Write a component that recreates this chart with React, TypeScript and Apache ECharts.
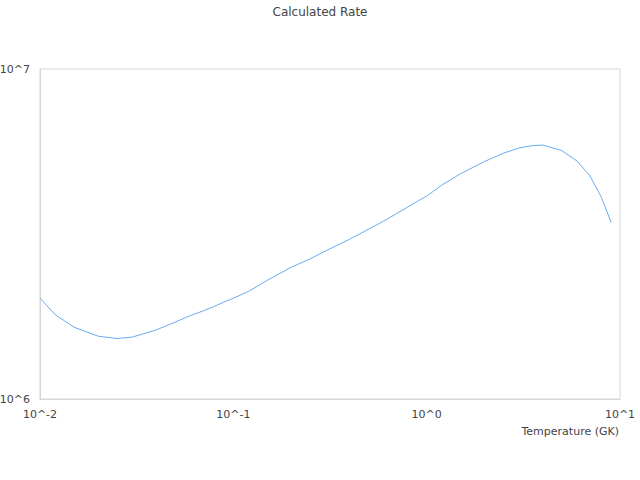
import React, { useEffect, useRef } from "react";
import * as echarts from "echarts";

const temperatures = [
  0.01, 0.012, 0.015, 0.02, 0.025, 0.03, 0.04, 0.05, 0.06, 0.07, 0.08, 0.09,
  0.1, 0.12, 0.15, 0.2, 0.25, 0.3, 0.4, 0.5, 0.6, 0.7, 0.8, 0.9,
  1, 1.2, 1.5, 2, 2.5, 3, 3.5, 4, 5, 6, 7, 8, 9,
];
const rates = [
  2.02e6, 1.8e6, 1.65e6, 1.55e6, 1.525e6, 1.54e6, 1.62e6, 1.71e6, 1.79e6, 1.85e6, 1.91e6, 1.97e6,
  2.02e6, 2.12e6, 2.29e6, 2.51e6, 2.66e6, 2.81e6, 3.05e6, 3.27e6, 3.46e6, 3.65e6, 3.82e6, 3.98e6,
  4.12e6, 4.45e6, 4.82e6, 5.25e6, 5.56e6, 5.76e6, 5.86e6, 5.88e6, 5.66e6, 5.26e6, 4.74e6, 4.09e6, 3.43e6,
];
const titleText = "Calculated Rate";
const xAxisName = "Temperature (GK)";

const powLabel = (v: number) => "10^" + Math.round(Math.log10(v));

export default function App() {
  const ref = useRef<HTMLDivElement>(null);
  useEffect(() => {
    if (!ref.current) return;
    const chart = echarts.init(ref.current, undefined, { renderer: "svg" });
    const font = "DejaVu Sans";
    chart.setOption({
      animation: false,
      backgroundColor: "#ffffff",
      title: {
        text: titleText,
        left: "center",
        top: 1,
        textStyle: { fontFamily: font, fontSize: 12, fontWeight: "normal", color: "#444" },
      },
      grid: {
        left: 40,
        right: 20,
        top: 69,
        bottom: 81,
        show: true,
        borderColor: "#d6d6d6",
        borderWidth: 1,
        containLabel: false,
        outerBoundsMode: "none",
      },
      xAxis: {
        type: "log",
        logBase: 10,
        min: 0.01,
        max: 10,
        name: xAxisName,
        nameLocation: "end",
        nameGap: -1,
        nameTextStyle: {
          fontFamily: font,
          fontSize: 11,
          color: "#444",
          align: "right",
          verticalAlign: "top",
          padding: [27, 0, 0, 0],
        },
        axisLine: { show: true, lineStyle: { color: "#d6d6d6" } },
        axisTick: { show: false },
        splitLine: { show: false },
        axisLabel: {
          formatter: powLabel,
          fontFamily: font,
          fontSize: 11,
          color: "#444",
          margin: 10,
        },
      },
      yAxis: {
        type: "log",
        logBase: 10,
        min: 1e6,
        max: 1e7,
        axisLine: { show: true, lineStyle: { color: "#d6d6d6" } },
        axisTick: { show: false },
        splitLine: { show: false },
        axisLabel: {
          formatter: powLabel,
          fontFamily: font,
          fontSize: 11,
          color: "#444",
          margin: 10,
        },
      },
      series: [
        {
          type: "line",
          data: temperatures.map((t, i) => [t, rates[i]]),
          showSymbol: false,
          symbol: "none",
          lineStyle: { color: "#6aaaf2", width: 1 },
        },
      ],
    });
    return () => chart.dispose();
  }, []);
  return (
    <div
      ref={ref}
      style={{ position: "fixed", left: 0, top: 0, width: 640, height: 480, background: "#fff" }}
    />
  );
}
